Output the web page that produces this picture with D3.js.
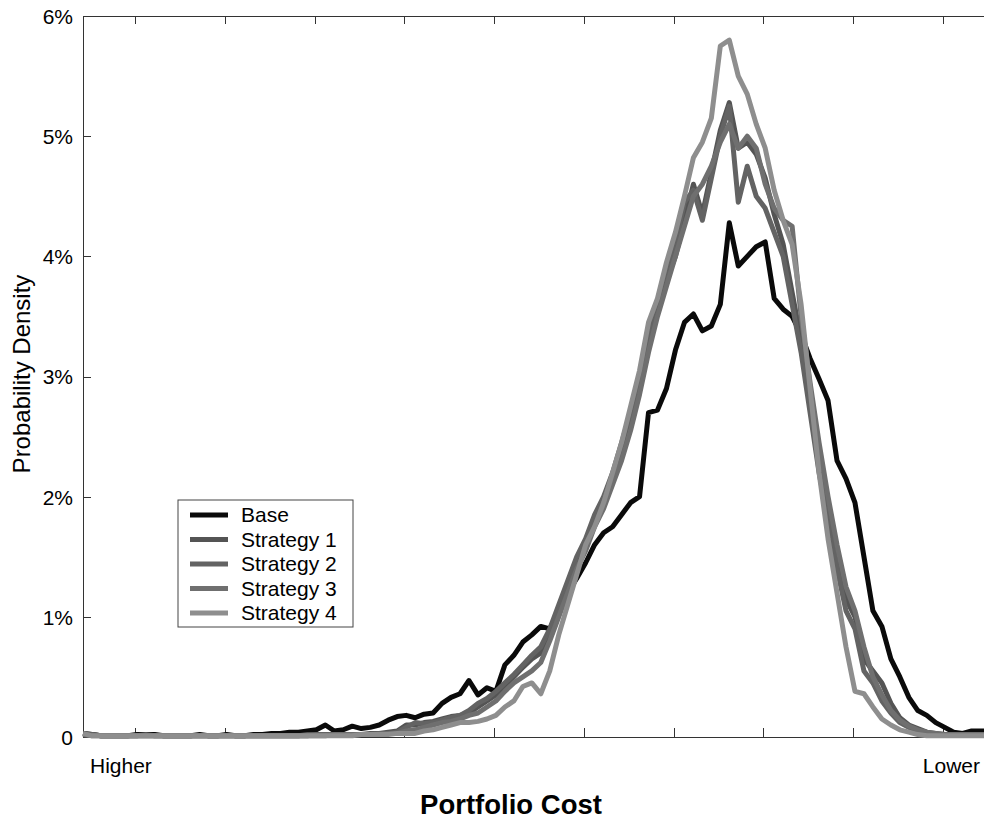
<!DOCTYPE html>
<meta charset="utf-8">
<head>
    <style>
        body {margin: 0; background: #fff;}
        text {font-family: "Liberation Sans", Arial, sans-serif; fill: #000;}
        .axis path, .axis line {stroke: #333; stroke-width: 1; shape-rendering: crispEdges;}
        .axis text {font-size: 21px;}
    </style>
    <script src="https://d3js.org/d3.v7.min.js"></script>
</head>
<body>
<script>

    // cost bins, left = higher cost, right = lower cost
    var bins = d3.range(0, 102);

    var base = [0.03,0.02,0.01,0.01,0.01,0.01,0.02,0.02,0.02,0.01,
        0.01,0.01,0.01,0.02,0.01,0.01,0.02,0.01,0.01,0.02,
        0.02,0.03,0.03,0.04,0.04,0.05,0.06,0.10,0.05,0.06,
        0.09,0.07,0.08,0.10,0.14,0.17,0.18,0.16,0.19,0.20,
        0.28,0.33,0.36,0.47,0.35,0.41,0.38,0.60,0.68,0.79,
        0.85,0.92,0.90,1.05,1.20,1.32,1.45,1.60,1.70,1.75,
        1.85,1.95,2.00,2.70,2.72,2.90,3.22,3.45,3.52,3.38,
        3.42,3.60,4.28,3.92,4.00,4.08,4.12,3.65,3.56,3.50,
        3.35,3.15,2.98,2.80,2.30,2.15,1.95,1.50,1.05,0.92,
        0.65,0.50,0.33,0.22,0.18,0.12,0.08,0.04,0.03,0.05,
        0.05,0.05];

    var strategy1 = [0.03,0.02,0.01,0.01,0.01,0.01,0.01,0.02,0.01,0.01,
        0.01,0.01,0.01,0.01,0.01,0.01,0.01,0.01,0.01,0.01,
        0.01,0.01,0.01,0.01,0.01,0.02,0.02,0.02,0.02,0.02,
        0.02,0.02,0.03,0.03,0.04,0.05,0.10,0.10,0.12,0.13,
        0.15,0.17,0.18,0.20,0.25,0.30,0.35,0.42,0.50,0.58,
        0.65,0.70,0.85,1.05,1.25,1.45,1.60,1.80,1.95,2.15,
        2.35,2.60,2.95,3.30,3.55,3.80,4.00,4.30,4.60,4.35,
        4.70,5.05,5.28,4.90,4.95,4.85,4.65,4.35,4.10,3.70,
        3.30,2.80,2.30,1.90,1.50,1.15,1.00,0.65,0.55,0.45,
        0.28,0.16,0.10,0.07,0.04,0.03,0.02,0.02,0.02,0.02,
        0.02,0.02];

    var strategy2 = [0.02,0.02,0.01,0.01,0.01,0.01,0.01,0.01,0.01,0.01,
        0.01,0.01,0.01,0.01,0.01,0.01,0.01,0.01,0.01,0.01,
        0.01,0.01,0.01,0.01,0.01,0.01,0.02,0.02,0.02,0.02,
        0.02,0.02,0.02,0.03,0.03,0.04,0.08,0.12,0.11,0.12,
        0.14,0.16,0.18,0.22,0.28,0.32,0.38,0.45,0.52,0.60,
        0.68,0.75,0.90,1.10,1.30,1.50,1.65,1.85,2.00,2.20,
        2.45,2.70,3.00,3.35,3.60,3.85,4.10,4.45,4.55,4.30,
        4.65,5.00,5.25,4.45,4.75,4.50,4.40,4.20,4.00,3.60,
        3.20,2.70,2.20,1.80,1.40,1.05,0.90,0.55,0.45,0.30,
        0.20,0.12,0.08,0.05,0.03,0.02,0.02,0.02,0.02,0.02,
        0.02,0.02];

    var strategy3 = [0.02,0.01,0.01,0.01,0.01,0.01,0.01,0.01,0.01,0.01,
        0.01,0.01,0.01,0.01,0.01,0.01,0.01,0.01,0.01,0.01,
        0.01,0.01,0.01,0.01,0.01,0.01,0.01,0.01,0.02,0.02,
        0.02,0.02,0.02,0.02,0.03,0.03,0.05,0.06,0.08,0.10,
        0.12,0.13,0.15,0.18,0.20,0.25,0.30,0.38,0.45,0.50,
        0.55,0.62,0.80,1.00,1.20,1.40,1.55,1.75,1.90,2.10,
        2.30,2.55,2.85,3.20,3.50,3.75,4.00,4.25,4.50,4.60,
        4.75,4.95,5.10,4.90,5.00,4.90,4.60,4.40,4.30,4.25,
        3.50,2.95,2.45,2.00,1.60,1.25,1.05,0.75,0.50,0.35,
        0.22,0.14,0.09,0.06,0.04,0.03,0.02,0.02,0.02,0.02,
        0.02,0.02];

    var strategy4 = [0.03,0.01,0.01,0.01,0.01,0.01,0.01,0.01,0.01,0.01,
        0.01,0.01,0.01,0.01,0.01,0.01,0.01,0.01,0.01,0.01,
        0.01,0.01,0.01,0.01,0.01,0.01,0.01,0.01,0.01,0.01,
        0.01,0.02,0.02,0.02,0.02,0.03,0.03,0.03,0.05,0.06,
        0.08,0.10,0.12,0.12,0.13,0.15,0.18,0.25,0.30,0.42,
        0.45,0.36,0.55,0.85,1.10,1.35,1.60,1.75,1.95,2.20,
        2.45,2.75,3.05,3.45,3.65,3.95,4.20,4.50,4.82,4.95,
        5.15,5.75,5.80,5.50,5.35,5.10,4.90,4.55,4.30,4.10,
        3.60,2.90,2.20,1.65,1.20,0.75,0.38,0.36,0.25,0.15,
        0.10,0.06,0.04,0.02,0.01,0.01,0.01,0.01,0.01,0.01,
        0.01,0.01];

    var seriesNames = ["Base", "Strategy 1", "Strategy 2", "Strategy 3", "Strategy 4"];
    var seriesColors = ["#0a0a0a", "#545454", "#636363", "#6f6f6f", "#8e8e8e"];
    var seriesValues = [base, strategy1, strategy2, strategy3, strategy4];

    var yTicks = [0, 1, 2, 3, 4, 5, 6];
    var yTickLabels = ["0", "1%", "2%", "3%", "4%", "5%", "6%"];
    var xTicks = [5.8, 15.8, 25.8, 35.8, 45.8, 55.8, 65.8, 75.8, 85.8, 95.8];

    var width = 984, height = 820;
    var plot = {left: 83, right: 995, top: 16, bottom: 737};

    var x = d3.scaleLinear()
        .domain([0, 101.6])
        .range([plot.left, plot.right]);

    var y = d3.scaleLinear()
        .domain([0, 6])
        .range([plot.bottom, plot.top]);

    var svg = d3.select("body").append("svg")
        .attr("width", width)
        .attr("height", height);

    // frame and ticks
    svg.append("g")
        .attr("class", "axis")
        .attr("transform", "translate(" + plot.left + ",0)")
        .call(d3.axisLeft(y).tickValues(yTicks).tickSize(-8).tickSizeOuter(0).tickPadding(10)
            .tickFormat(function(d, i) {return yTickLabels[i];}))
        .selectAll("text").attr("dy", "0.35em");

    svg.append("g")
        .attr("class", "axis")
        .attr("transform", "translate(" + plot.right + ",0)")
        .call(d3.axisRight(y).tickValues(yTicks).tickSize(-8).tickSizeOuter(0).tickFormat(""));

    svg.append("g")
        .attr("class", "axis")
        .attr("transform", "translate(0," + plot.top + ")")
        .call(d3.axisTop(x).tickValues(xTicks).tickSize(-8).tickSizeOuter(0).tickFormat(""));

    svg.append("g")
        .attr("class", "axis")
        .attr("transform", "translate(0," + plot.bottom + ")")
        .call(d3.axisBottom(x).tickValues(xTicks).tickSize(-9).tickSizeOuter(0).tickFormat(""));

    // curves
    var line = d3.line()
        .x(function(d, i) {return x(bins[i]);})
        .y(function(d) {return y(d);});

    svg.append("g")
        .selectAll("path")
        .data(seriesValues)
      .enter().append("path")
        .attr("d", line)
        .attr("fill", "none")
        .attr("stroke", function(d, i) {return seriesColors[i];})
        .attr("stroke-width", 5)
        .attr("stroke-linejoin", "round");

    // axis texts
    svg.append("text")
        .attr("transform", "translate(30,374) rotate(-90)")
        .attr("text-anchor", "middle")
        .style("font-size", "24px")
        .text("Probability Density");

    svg.append("text")
        .attr("x", 90).attr("y", 773)
        .style("font-size", "21px")
        .text("Higher");

    svg.append("text")
        .attr("x", 980).attr("y", 773)
        .attr("text-anchor", "end")
        .style("font-size", "21px")
        .text("Lower");

    svg.append("text")
        .attr("x", 511).attr("y", 814)
        .attr("text-anchor", "middle")
        .style("font-size", "27.5px")
        .style("font-weight", "bold")
        .text("Portfolio Cost");

    // legend
    var legend = svg.append("g").attr("transform", "translate(178,500)");

    legend.append("rect")
        .attr("width", 175).attr("height", 127)
        .attr("fill", "#fff")
        .attr("stroke", "#444")
        .attr("stroke-width", 1);

    var items = legend.selectAll(".item")
        .data(seriesNames)
      .enter().append("g")
        .attr("class", "item")
        .attr("transform", function(d, i) {return "translate(0," + (15 + i * 24.5) + ")";});

    items.append("line")
        .attr("x1", 12).attr("x2", 50)
        .attr("stroke", function(d, i) {return seriesColors[i];})
        .attr("stroke-width", 5);

    items.append("text")
        .attr("x", 63).attr("dy", "0.35em")
        .style("font-size", "21px")
        .text(function(d) {return d;});

</script>
</body>
